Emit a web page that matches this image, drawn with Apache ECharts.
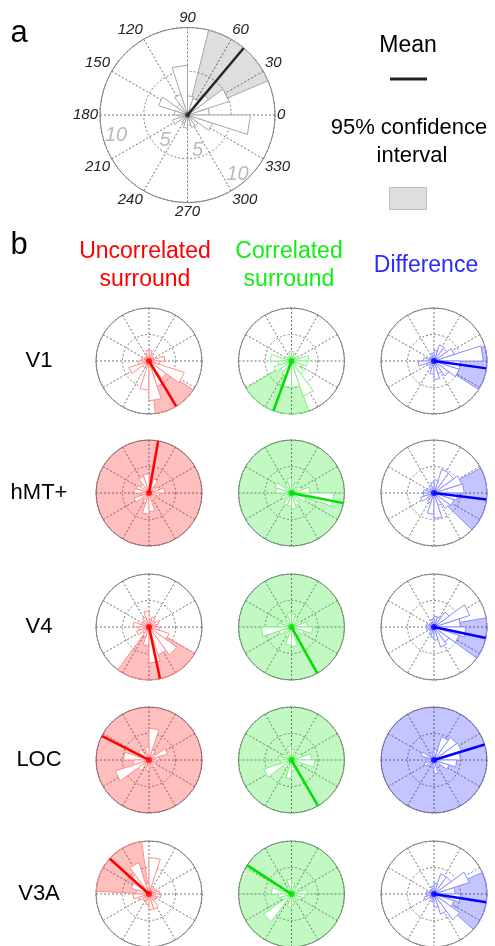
<!DOCTYPE html>
<html>
<head>
<meta charset="utf-8">
<script src="https://cdn.jsdelivr.net/npm/echarts@6/dist/echarts.min.js"></script>
<style>
  html, body { margin: 0; padding: 0; background: #fff; }
  #chart { width: 495px; height: 946px; }
</style>
</head>
<body>
<div id="chart"></div>
<script>
// rose bin edges (degrees), 20 bins
const binEdges = [0, 18, 36, 54, 72, 90, 108, 126, 144, 162, 180, 198, 216, 234, 252, 270, 288, 306, 324, 342, 360];
const angleTicks = [0, 30, 60, 90, 120, 150, 180, 210, 240, 270, 300, 330];

// panel a: example rose
const roseA = [2.5, 5, 3, 2, 2.2, 5.7, 2.5, 1.5, 3.5, 1.5, 1, 1.8, 1, 1, 1.5, 1.2, 1.5, 1.5, 3, 7.2];
const meanA = 50;
const ciA = [23, 76];
const radialLabels = ["10", "5", "5", "10"];
const radialLabelR = [8.5, 3.9, 4.2, 8.9];
const radialLabelAngle = [196, 229, 286, 310];

// panel b
const regions = ["V1", "hMT+", "V4", "LOC", "V3A"];
const conditions = ["Uncorrelated\nsurround", "Correlated\nsurround", "Difference"];

const roseUnc = [
  [3, 1, 1, 1.5, 2, 2, 1, 1, 1, 1.5, 2, 4, 1.5, 1, 5.5, 7.5, 5, 4, 7, 2],
  [3, 2, 1.5, 2.8, 2, 3.6, 3.3, 2, 2.5, 2.8, 1.5, 3, 1.5, 2, 4, 3.5, 1.5, 1.5, 1.5, 2],
  [1.5, 2, 1.5, 2, 1.5, 3, 2, 1.5, 1.5, 3, 2, 2.5, 1.5, 2, 3.5, 6.8, 5.5, 6.5, 4, 2],
  [2, 3.7, 1.5, 2, 6, 2.5, 1.5, 2.5, 2, 4.8, 3, 6.7, 2.5, 1.5, 2, 1.5, 1.5, 2, 1.5, 1.5],
  [2, 1.5, 1.5, 1.5, 6.9, 2, 6.2, 4.5, 3.5, 2.5, 3, 2, 1.5, 1.5, 2, 3, 3, 1.5, 1.5, 2.3]
];
const roseCor = [
  [3.3, 1.5, 1, 1, 1.8, 1.8, 1, 1, 1.5, 4, 2.5, 3.5, 2.5, 3, 5, 5, 7, 3, 2, 3],
  [3.5, 2, 1.5, 2, 1.5, 2.8, 2, 1.5, 3.3, 3, 1.5, 2, 1.5, 2.5, 2.5, 3, 2.5, 2, 3, 8],
  [3, 2, 1.5, 2, 2.5, 2.7, 2, 1.5, 2, 2.5, 5.7, 2.5, 1.5, 2, 3.5, 3.7, 2.5, 2, 2.5, 4],
  [3.8, 2, 1.5, 1.5, 2, 2.6, 1.5, 1.5, 2, 2.5, 2, 5.5, 2, 1.5, 3.5, 2, 1.5, 1.5, 2, 4.4],
  [3, 1.5, 2.5, 1.5, 2, 2.8, 1.5, 2.5, 1.5, 3.8, 2.5, 2, 6.5, 1.5, 2.5, 2, 1.5, 1.5, 2, 2.6]
];
const roseDiff = [
  [9.3, 4, 3, 3.2, 2, 1.5, 1, 1, 1, 2, 3, 1.5, 1, 1.5, 2.5, 3.5, 2.5, 3.5, 5, 5],
  [5.7, 5.5, 4.6, 4.7, 2.5, 2, 1.5, 1, 1.5, 2, 2, 2.7, 1.5, 2, 4, 4.8, 2.5, 3.6, 4, 4.5],
  [5, 7.1, 3.5, 2, 2, 1.5, 1, 1, 1, 1.5, 1.5, 1, 1, 1.5, 2, 2.5, 4, 3.5, 5, 6],
  [5, 5.5, 5.3, 4.6, 2, 1.5, 1.5, 1, 2.6, 1.5, 1.5, 2, 1.5, 1, 1.5, 2.6, 1.5, 1.5, 3, 4.3],
  [4, 7, 4, 4, 2, 1.5, 1, 1, 1, 1.5, 1.5, 2, 1, 1, 1.5, 2.5, 4, 6, 4, 5]
];
const meanUnc = [301, 80, 282, 153, 138];
const meanCor = [250, 349, 299, 300, 147];
const meanDiff = [352, 353, 348, 17, 351];
const ciUnc = [[277, 327], [0, 360], [234, 330], [0, 360], [98, 177]];
const ciCor = [[211, 289], [0, 360], [0, 360], [0, 360], [0, 360]];
const ciDiff = [[327.5, 376], [316, 388], [324, 370], [0, 360], [318, 384]];

const RMAX = 10;
const FONT = '"Liberation Sans", Arial, sans-serif';
const colX = [149, 291.5, 434];
const rowY = [361, 493, 627, 760, 894];
const mainColor = ["#ff0000", "#00e000", "#0000ff"];
const ciFill = ["rgba(255,0,0,0.25)", "rgba(0,230,0,0.24)", "rgba(0,0,255,0.23)"];
const petalColor = ["#ff8c8c", "#7ff07f", "#8c8cff"];
const titleColor = ["#ff0000", "#11ee11", "#2b2bff"];

const polar = [], angleAxis = [], radiusAxis = [], series = [];

function addPlot(center, radius, labels, rose, mean, ci, col) {
  const i = polar.length;
  polar.push({ center, radius });
  angleAxis.push({
    polarIndex: i, type: "value", min: 0, max: 360, interval: 30, startAngle: 0, clockwise: false,
    axisLine: { lineStyle: { color: "#808080", width: 1 } },
    axisTick: { show: false },
    axisLabel: {
      show: labels, margin: 2, fontSize: 15, fontStyle: "italic", fontFamily: FONT, color: "#222",
      formatter: v => angleTicks.includes(v) ? String(v) : ""
    },
    splitLine: { show: true, lineStyle: { color: "#707070", width: 1, type: [2, 2] } }
  });
  radiusAxis.push({
    polarIndex: i, min: 0, max: RMAX, interval: 5,
    axisLine: { show: false }, axisTick: { show: false }, axisLabel: { show: false },
    splitLine: { show: true, lineStyle: { color: "#808080", width: 1, type: [2, 2] } }
  });
  // confidence interval
  series.push({
    type: "custom", coordinateSystem: "polar", polarIndex: i, z: 1, silent: true,
    data: [[RMAX, ci[0], ci[1]]],
    renderItem: (params, api) => {
      const c = api.coord([0, 0]);
      const e = api.coord([api.value(0), api.value(1)]);
      const R = Math.hypot(e[0] - c[0], e[1] - c[1]);
      if (api.value(2) - api.value(1) >= 360) {
        return { type: "circle", shape: { cx: c[0], cy: c[1], r: R }, style: { fill: col.fill, stroke: null } };
      }
      return {
        type: "sector",
        shape: { cx: c[0], cy: c[1], r: R, r0: 0, startAngle: -api.value(2) * Math.PI / 180, endAngle: -api.value(1) * Math.PI / 180, clockwise: true },
        style: { fill: col.fill, stroke: col.petal, lineWidth: 1 }
      };
    }
  });
  // rose petals
  series.push({
    type: "custom", coordinateSystem: "polar", polarIndex: i, z: 2, silent: true,
    data: rose.map((r, k) => [r, binEdges[k], binEdges[k + 1]]),
    renderItem: (params, api) => {
      const c = api.coord([0, 0]);
      const p1 = api.coord([api.value(0), api.value(1)]);
      const p2 = api.coord([api.value(0), api.value(2)]);
      return { type: "polygon", shape: { points: [c, p1, p2] }, style: { fill: "#fff", stroke: col.petal, lineWidth: 1 } };
    }
  });
  // mean direction
  series.push({
    type: "line", coordinateSystem: "polar", polarIndex: i, z: 3, silent: true, symbol: "none",
    data: [[0, mean], [RMAX, mean]],
    lineStyle: { color: col.main, width: col.width }
  });
  series.push({
    type: "scatter", coordinateSystem: "polar", polarIndex: i, z: 4, silent: true,
    data: [[0, 0]], symbolSize: col.dot, itemStyle: { color: col.main }
  });
}

addPlot([187.5, 115], 87.5, true, roseA, meanA, ciA,
  { fill: "rgba(0,0,0,0.13)", petal: "#a8a8a8", main: "#262626", width: 2.5, dot: 5 });
series.push({
  type: "scatter", coordinateSystem: "polar", polarIndex: 0, z: 5, silent: true, symbolSize: 0,
  data: radialLabels.map((t, k) => ({ name: t, value: [radialLabelR[k], radialLabelAngle[k]] })),
  label: { show: true, position: "inside", formatter: "{b}", fontSize: 20, fontStyle: "italic", fontFamily: FONT, color: "#a8a8a8" }
});

const roses = [roseUnc, roseCor, roseDiff];
const means = [meanUnc, meanCor, meanDiff];
const cis = [ciUnc, ciCor, ciDiff];
regions.forEach((reg, r) => {
  conditions.forEach((cond, c) => {
    addPlot([colX[c], rowY[r]], 53, false, roses[c][r], means[c][r], cis[c][r],
      { fill: ciFill[c], petal: petalColor[c], main: mainColor[c], width: 2.5, dot: 6 });
  });
});

const txt = (text, x, y, size, color, extra) => Object.assign({
  type: "text", x, y, silent: true,
  style: { text, font: size + "px " + FONT, fill: color, align: "center", verticalAlign: "middle", textAlign: "center", textVerticalAlign: "middle" }
}, extra || {});

const graphic = [
  txt("a", 19, 33, 31, "#000"),
  txt("b", 19, 245, 31, "#000"),
  txt("Mean", 408, 46, 23, "#000"),
  { type: "line", silent: true, shape: { x1: 390, y1: 79, x2: 427, y2: 79 }, style: { stroke: "#222", lineWidth: 3 } },
  txt("95% confidence", 409, 128, 22, "#000"),
  txt("interval", 412, 156, 22, "#000"),
  { type: "rect", silent: true, shape: { x: 389.5, y: 187.5, width: 37, height: 22 }, style: { fill: "#dedede", stroke: "#bdbdbd", lineWidth: 1 } }
];
conditions.forEach((cond, c) => {
  const g = txt(cond, [145, 289, 426][c], 266, 23, titleColor[c]);
  g.style.lineHeight = 28;
  graphic.push(g);
});
regions.forEach((reg, r) => graphic.push(txt(reg, 39, rowY[r], 22, "#000")));

const chart = echarts.init(document.getElementById("chart"), null, { renderer: "canvas" });
chart.setOption({
  animation: false,
  backgroundColor: "#fff",
  polar, angleAxis, radiusAxis, series, graphic
});
</script>
</body>
</html>
